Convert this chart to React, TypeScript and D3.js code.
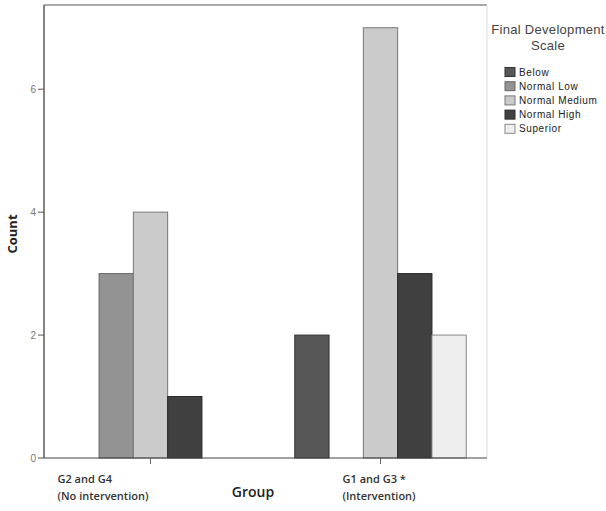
import * as d3 from "d3";
import { useEffect, useRef } from "react";

// groups on the x axis, two label lines each
const groups = ["G2 and G4", "G1 and G3 *"];
const groupSub = ["(No intervention)", "(Intervention)"];
// development scale categories
const levels = ["Below", "Normal Low", "Normal Medium", "Normal High", "Superior"];
const levelColors = ["#575757", "#939393", "#cbcbcb", "#404040", "#eeeeee"];
const levelStroke = ["#333333", "#666666", "#777777", "#2a2a2a", "#888888"];
// counts per group, in order of levels (0 = no bar)
const countsG2G4 = [0, 3, 4, 1, 0];
const countsG1G3 = [2, 0, 7, 3, 2];
const yTicks = [0, 2, 4, 6];

const App = () => {
  const ref = useRef(null);

  useEffect(() => {
    const svg = d3.select(ref.current);
    svg.selectAll("*").remove();

    const margin = { top: 5, left: 44, right: 119, bottom: 53 };
    const width = 606, height = 511;
    const x0 = margin.left, x1 = width - margin.right;
    const yBottom = height - margin.bottom;

    const scaleX = d3.scalePoint().domain(groups).range([x0, x1]).padding(0.463);
    const scaleY = d3.scaleLinear().domain([0, 7.37]).range([yBottom, margin.top]);
    const bandW = 171.5;
    const scaleSub = d3.scaleBand().domain(levels).range([-bandW / 2, bandW / 2]);

    const data = [countsG2G4, countsG1G3];

    // рамка
    svg.append("line").attr("x1", x0).attr("x2", x1).attr("y1", margin.top).attr("y2", margin.top)
      .style("stroke", "#555").style("stroke-width", 1.2);
    svg.append("line").attr("x1", x1).attr("x2", x1).attr("y1", margin.top).attr("y2", yBottom)
      .style("stroke", "#ddd").style("stroke-width", 1);

    // столбцы
    groups.forEach((g, gi) => {
      levels.forEach((lv, li) => {
        const v = data[gi][li];
        if (!v) return;
        svg.append("rect")
          .attr("x", scaleX(g) + scaleSub(lv))
          .attr("y", scaleY(v))
          .attr("width", scaleSub.bandwidth())
          .attr("height", yBottom - scaleY(v))
          .style("fill", levelColors[li])
          .style("stroke", levelStroke[li])
          .style("stroke-width", 1);
      });
    });

    // оси
    svg.append("line").attr("x1", x0).attr("x2", x0).attr("y1", margin.top).attr("y2", yBottom)
      .style("stroke", "#333").style("stroke-width", 1.2);
    svg.append("line").attr("x1", x0).attr("x2", x1).attr("y1", yBottom).attr("y2", yBottom)
      .style("stroke", "#444").style("stroke-width", 1.2);

    yTicks.forEach(t => {
      svg.append("line").attr("x1", x0 - 6).attr("x2", x0).attr("y1", scaleY(t)).attr("y2", scaleY(t))
        .style("stroke", "#555");
      svg.append("text").attr("x", x0 - 8).attr("y", scaleY(t)).attr("dy", "0.35em")
        .attr("text-anchor", "end")
        .style("font-family", "Liberation Sans, Arial, sans-serif").style("font-size", "10px")
        .style("fill", "#777").text(t);
    });

    const labelOffset = [-93, -38];
    groups.forEach((g, gi) => {
      svg.append("line").attr("x1", scaleX(g)).attr("x2", scaleX(g)).attr("y1", yBottom).attr("y2", yBottom + 6)
        .style("stroke", "#666");
      const tx = scaleX(g) + labelOffset[gi];
      svg.append("text").attr("x", tx).attr("y", 483)
        .style("font-family", "Open Sans, sans-serif").style("font-weight", 600)
        .style("font-size", "11px").style("fill", "#333").text(g);
      svg.append("text").attr("x", tx).attr("y", 500)
        .style("font-family", "Open Sans, sans-serif").style("font-weight", 600)
        .style("font-size", "11px").style("fill", "#333").text(groupSub[gi]);
    });

    // подписи осей
    svg.append("text").attr("x", 253).attr("y", 497).attr("text-anchor", "middle")
      .style("font-family", "Open Sans, sans-serif").style("font-weight", 600)
      .style("font-size", "14px").style("fill", "#222").text("Group");
    svg.append("text").attr("transform", "translate(17,234) rotate(-90)").attr("text-anchor", "middle")
      .style("font-family", "Open Sans, sans-serif").style("font-weight", 700)
      .style("font-size", "13px").style("fill", "#222").text("Count");

    // легенда
    const lg = svg.append("g");
    lg.append("text").attr("x", 548).attr("y", 34).attr("text-anchor", "middle")
      .style("font-family", "Liberation Sans, Arial, sans-serif").style("font-size", "13px")
      .style("letter-spacing", "0.3px").style("fill", "#444").text("Final Development");
    lg.append("text").attr("x", 548).attr("y", 50).attr("text-anchor", "middle")
      .style("font-family", "Liberation Sans, Arial, sans-serif").style("font-size", "13px")
      .style("letter-spacing", "0.3px").style("fill", "#444").text("Scale");
    levels.forEach((lv, li) => {
      const cy = 72 + li * 14.2;
      lg.append("rect").attr("x", 505).attr("y", cy - 4.5).attr("width", 10).attr("height", 9)
        .style("fill", levelColors[li]).style("stroke", levelStroke[li]).style("stroke-width", 1);
      lg.append("text").attr("x", 519).attr("y", cy).attr("dy", "0.35em")
        .style("font-family", "Liberation Sans, Arial, sans-serif").style("font-size", "10px")
        .style("letter-spacing", "0.6px").style("fill", "#222").text(lv);
    });
  }, []);

  return <svg ref={ref} width={606} height={511} style={{ position: "absolute", left: 0, top: 0, background: "#fff" }}></svg>;
};

export default App;
